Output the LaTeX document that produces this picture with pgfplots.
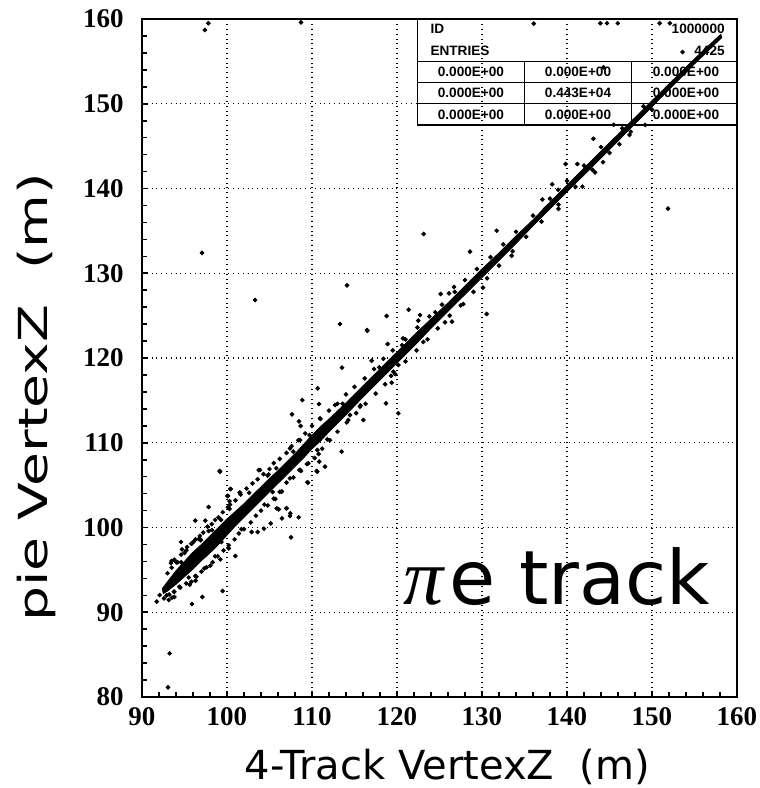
\documentclass[border=0pt]{standalone}
\usepackage{fontspec}
\usepackage{pgfplots}
\pgfplotsset{compat=1.18}
\setmainfont{Liberation Serif}
\newfontfamily\labfont{DejaVu Sans}
\newfontfamily\boxfont{Liberation Sans}

% outlying events
\pgfplotstableread{
x y
93.06 81.14
93.25 85.15
91.73 91.25
92.08 92.03
92.59 91.64
93.14 91.45
93.53 91.72
93.80 91.80
95.88 90.97
97.10 91.80
99.49 92.51
93.76 92.43
94.39 93.01
95.61 93.25
96.31 93.72
96.27 94.28
98.04 95.50
97.33 95.18
99.22 96.24
100.98 96.64
100.20 97.54
99.33 98.29
93.49 96.05
93.49 95.26
94.04 95.89
94.59 98.29
94.71 97.42
95.88 98.13
95.22 97.31
96.08 98.33
96.67 98.64
96.90 98.60
96.27 100.81
97.45 100.81
97.84 102.42
97.84 99.59
98.24 99.70
100.12 103.72
100.39 104.54
101.49 104.11
99.14 106.67
102.90 99.47
103.61 99.47
104.35 99.86
105.14 100.49
106.47 101.08
107.41 101.36
107.45 101.67
108.43 101.20
107.53 98.84
105.84 102.26
106.08 102.14
106.98 102.26
106.43 104.27
105.69 103.36
105.37 104.19
103.73 106.78
104.90 106.27
108.71 106.67
109.53 105.29
110.55 106.67
100.30 102.20
100.35 102.70
100.30 103.10
118.78 124.96
113.29 124.01
116.47 123.30
113.53 118.86
117.02 119.68
119.57 118.39
120.16 119.17
118.71 114.65
120.16 113.47
119.37 117.09
110.67 116.42
108.86 115.04
107.65 113.35
108.47 112.53
108.67 111.98
110.82 114.57
110.94 112.88
112.71 114.45
113.49 108.95
110.78 108.67
110.63 109.14
110.86 107.77
111.53 107.18
110.63 106.59
109.57 107.57
109.45 105.33
108.51 106.78
106.43 104.23
100.04 103.72
99.18 106.59
100.43 104.54
101.53 104.11
107.02 102.26
103.88 106.78
104.78 106.12
107.41 109.34
107.80 108.95
108.59 110.32
114.27 112.68
114.47 113.27
116.04 112.68
115.65 114.26
123.14 134.63
114.12 128.57
116.51 123.22
118.90 121.65
121.37 125.70
122.71 125.07
120.71 122.32
122.51 124.41
125.14 127.55
126.12 127.63
126.71 128.38
125.65 124.21
126.47 124.29
127.80 126.37
128.59 132.55
131.73 135.02
130.55 125.19
130.12 128.30
133.49 132.07
127.14 127.32
136.09 159.45
143.92 159.50
144.71 159.50
145.97 159.50
150.90 159.50
152.10 159.50
153.60 156.10
151.88 137.63
143.11 145.87
139.84 142.89
141.22 142.89
141.81 140.22
138.26 140.50
144.24 143.10
146.17 145.23
147.36 146.33
145.50 147.52
149.20 147.50
144.30 154.30
143.30 141.90
138.97 139.85
137.10 138.70
137.40 137.60
139.00 137.60
97.40 158.70
97.80 159.50
108.70 159.60
97.06 132.40
103.30 126.84
}\outliers

% events just off the dense core
\pgfplotstableread{
x y
93.0 94.6
93.4 95.8
93.8 96.2
94.2 95.9
94.6 96.8
95.0 97.0
95.3 97.7
95.8 98.1
96.3 98.6
96.8 99.0
97.2 99.4
97.7 100.1
98.2 100.4
98.6 100.9
99.0 101.2
99.5 101.8
100.1 102.4
101.0 103.2
101.6 103.9
102.3 104.6
103.0 105.2
103.6 105.7
104.3 106.3
105.0 106.9
105.5 107.6
106.2 108.1
107.0 108.8
107.6 109.6
108.4 110.3
109.2 111.1
110.0 112.0
111.0 112.8
112.0 113.8
113.0 114.6
114.0 115.7
115.0 116.6
116.2 117.6
117.3 118.7
118.4 119.9
119.5 120.9
121.0 122.2
122.4 123.6
123.8 124.9
125.3 126.3
126.8 127.8
128.0 129.2
129.4 130.5
131.0 131.9
132.5 133.4
134.0 134.9
136.0 136.8
138.0 138.8
140.0 140.9
142.0 142.7
144.0 144.9
146.5 147.1
149.0 149.7
93.2 92.1
93.8 92.4
94.5 92.9
95.2 93.4
95.8 93.6
96.4 94.2
97.0 94.8
97.6 95.3
98.3 95.9
98.9 96.6
99.6 97.3
100.2 97.9
100.9 98.6
101.4 99.3
102.0 99.8
102.8 100.6
103.4 101.4
104.0 102.0
104.8 102.6
105.5 103.4
106.2 104.2
107.0 105.3
107.8 105.9
108.6 106.8
109.4 107.5
110.3 108.2
111.2 109.3
112.1 110.3
113.0 111.3
114.1 112.4
115.2 113.5
116.3 114.6
117.5 115.8
118.6 116.9
119.8 118.1
121.0 119.6
122.3 120.9
123.6 122.2
124.8 123.5
126.2 125.0
127.5 126.2
129.0 127.8
130.6 129.4
132.0 130.9
133.6 132.6
135.2 134.3
137.0 136.1
139.0 138.1
141.0 140.2
143.0 142.2
145.0 144.2
147.5 146.7
150.0 149.3
94.6 95.9
96.9 98.5
99.3 100.9
102.6 104.1
105.8 107.0
109.7 110.9
113.6 114.6
117.9 118.9
120.6 121.5
124.5 125.4
92.9 92.0
95.5 94.1
98.6 96.6
101.7 99.8
104.4 102.7
107.4 105.8
111.8 110.4
115.7 114.4
119.3 117.9
123.1 121.9
}\edge

\begin{document}
\begin{tikzpicture}
\useasboundingbox (0,0) rectangle (380pt,394pt);
\begin{axis}[
    at={(71pt,45.5pt)}, anchor=south west,
    scale only axis,
    width=297.5pt, height=339pt,
    xmin=90, xmax=160, ymin=80, ymax=160,
    xtick={90,100,...,160}, ytick={80,90,...,160},
    minor tick num=4,
    tick align=inside,
    xtick pos=bottom, ytick pos=left,
    major tick length=3pt, minor tick length=2.5pt,
    every tick/.style={black, line width=0.8pt},
    axis line style={line width=1pt},
    grid=major,
    major grid style={black, dotted, line width=0.6pt},
    /pgf/number format/assume math mode=true,
    ticklabel style={font=\fontsize{13.5}{14}\selectfont\bfseries},
    xticklabel style={anchor=north, inner sep=0pt, yshift=-5pt},
    yticklabel style={anchor=east, inner sep=0pt, xshift=-9pt},
    xlabel={4-Track VertexZ~~(m)},
    ylabel={\scalebox{1.38}[1]{pie VertexZ~~(m)}},
    every axis x label/.style={at={(axis description cs:0.513,-0.103)}, anchor=center,
        font=\labfont\fontsize{20}{22}\selectfont},
    every axis y label/.style={at={(axis description cs:-0.178,0.442)}, anchor=center,
        rotate=90, font=\labfont\fontsize{20}{22}\selectfont},
]

% dense core of the correlation
\addplot[fill=black, draw=black, line width=0.4pt] coordinates {
(92.4,92.8) (93,93.6) (94,94.9) (95,96.0) (96,97.1) (97,98.0) (98,99.0)
(99,100.0) (100,101.0) (101,101.9) (102,102.8) (103,103.8) (104,104.8)
(105,105.8) (106,106.7) (107,107.7) (108,108.7) (109,109.8) (110,110.9)
(111,111.9) (112,112.8) (114,114.7) (116,116.7) (118,118.7) (120,120.7)
(122,122.7) (124,124.6) (126,126.5) (128,128.5) (130,130.5) (132,132.4)
(134,134.4) (136,136.3) (138,138.4) (140,140.4) (145,145.4) (150,150.35)
(155,155.3) (158.1,158.2)
(158.2,157.8) (155,154.7) (150,149.65) (145,144.6) (140,139.6) (138,137.6)
(136,135.6) (134,133.5) (132,131.5) (130,129.5) (128,127.5) (126,125.5)
(124,123.5) (122,121.4) (120,119.4) (118,117.4) (116,115.4) (114,113.3)
(112,111.3) (111,110.2) (110,109.3) (109,108.2) (108,107.2) (107,106.2)
(106,105.2) (105,104.2) (104,103.2) (103,102.2) (102,101.2) (101,100.2)
(100,99.1) (99,98.0) (98,97.0) (97,96.1) (96,95.1) (95,94.2) (94,93.3)
(93,92.5) (92.5,92.2)
} -- cycle;

\addplot[only marks, mark=*, mark size=0.95pt, black] table {\edge};
\addplot[only marks, mark=*, mark size=0.95pt, black] table {\outliers};

% statistics box
\draw[line width=0.7pt] (axis cs:122.4,160) -- (axis cs:122.4,147.5) -- (axis cs:160,147.5);
\draw[line width=0.7pt] (axis cs:122.4,155) -- (axis cs:160,155);
\draw[line width=0.7pt] (axis cs:122.4,152.5) -- (axis cs:160,152.5);
\draw[line width=0.7pt] (axis cs:122.4,150) -- (axis cs:160,150);
\draw[line width=0.7pt] (axis cs:135,155) -- (axis cs:135,147.5);
\draw[line width=0.7pt] (axis cs:147.6,155) -- (axis cs:147.6,147.5);
\begin{scope}[font=\boxfont\bfseries\fontsize{6.8}{7}\selectfont]
\node[anchor=west, inner sep=0pt] at (axis cs:123.9,158.8) {ID};
\node[anchor=west, inner sep=0pt] at (axis cs:123.9,156.2) {ENTRIES};
\node[anchor=east, inner sep=0pt] at (axis cs:158.6,158.8) {1000000};
\node[anchor=east, inner sep=0pt] at (axis cs:158.6,156.2) {4425};
\node[inner sep=0pt] at (axis cs:128.7,153.75) {0.000E+00};
\node[inner sep=0pt] at (axis cs:141.3,153.75) {0.000E+00};
\node[inner sep=0pt] at (axis cs:154.0,153.75) {0.000E+00};
\node[inner sep=0pt] at (axis cs:128.7,151.25) {0.000E+00};
\node[inner sep=0pt] at (axis cs:141.3,151.25) {0.443E+04};
\node[inner sep=0pt] at (axis cs:154.0,151.25) {0.000E+00};
\node[inner sep=0pt] at (axis cs:128.7,148.75) {0.000E+00};
\node[inner sep=0pt] at (axis cs:141.3,148.75) {0.000E+00};
\node[inner sep=0pt] at (axis cs:154.0,148.75) {0.000E+00};
\end{scope}

\node[anchor=base west, inner sep=0pt]
  at (axis cs:120.7,90.86) {{\rmfamily\itshape\fontsize{40}{42}\selectfont π}\hspace{3pt}{\labfont\fontsize{37.5}{39}\selectfont e track}};
\end{axis}
\end{tikzpicture}
\end{document}
